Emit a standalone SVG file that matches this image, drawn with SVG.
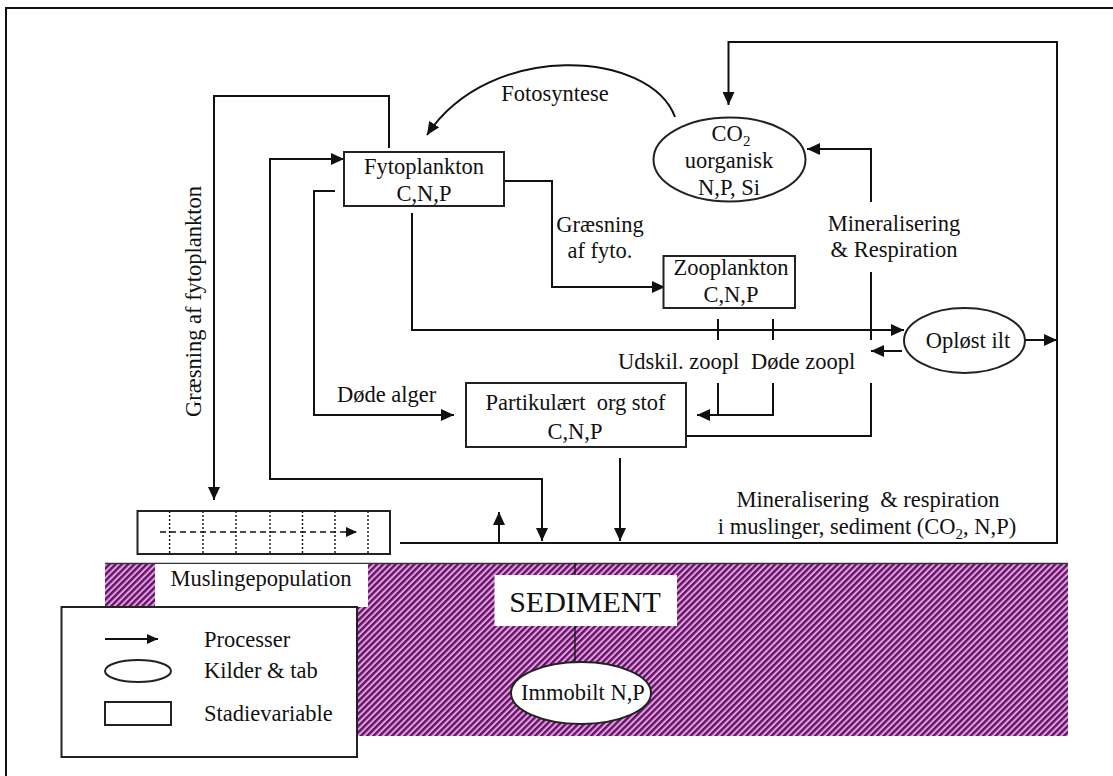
<svg xmlns="http://www.w3.org/2000/svg" width="1113" height="776" viewBox="0 0 1113 776">
<style>
text{font-family:"Liberation Serif","Times New Roman",serif;font-size:22.5px;fill:#111;}
.c{text-anchor:middle;}
.box{fill:#fff;stroke:#222;stroke-width:2;}
.ln{fill:none;stroke:#111;stroke-width:2;}
.thin{fill:none;stroke:#111;stroke-width:1.3;}
.dot{fill:none;stroke:#111;stroke-width:1.4;stroke-dasharray:2 2;}
.dash{fill:none;stroke:#111;stroke-width:1.4;stroke-dasharray:6 4;}
</style>
<defs>
<marker id="ah" markerUnits="userSpaceOnUse" markerWidth="14" markerHeight="12" refX="13" refY="6" orient="auto-start-reverse">
<path d="M0,0 L13,6 L0,12 Z" fill="#111"/>
</marker>
<marker id="ahs" markerUnits="userSpaceOnUse" markerWidth="12" markerHeight="10" refX="11" refY="5" orient="auto">
<path d="M0,0 L11,5 L0,10 Z" fill="#111"/>
</marker>
<pattern id="hatch" patternUnits="userSpaceOnUse" width="4.4" height="4.4" patternTransform="rotate(45)">
<rect width="4.4" height="4.4" fill="#dba4db"/>
<rect width="2.4" height="4.4" fill="#6a0f6a"/>
</pattern>
</defs>

<!-- frame -->
<rect x="6" y="8" width="1130" height="800" fill="none" stroke="#111" stroke-width="2"/>

<!-- sediment band -->
<g id="sediment">
<rect x="105" y="563" width="963" height="173" fill="url(#hatch)"/>
<line x1="105" y1="563.5" x2="1068" y2="563.5" stroke="#333" stroke-width="1.5"/>
<rect x="155" y="564" width="213" height="43" fill="#fff"/>
<text class="c" x="261" y="586">Muslingepopulation</text>
<rect x="494.5" y="575" width="182.5" height="51" fill="#fff"/>
<text class="c" x="585" y="612" style="font-size:30px">SEDIMENT</text>
<line class="thin" x1="575" y1="563" x2="575" y2="575"/>
<line class="thin" x1="575" y1="626" x2="575" y2="662"/>
</g>

<g id="immobilt">
<ellipse cx="581" cy="693" rx="70" ry="31" class="box"/>
<text class="c" x="583" y="700">Immobilt N,P</text>
</g>

<g id="connectors">
<polyline class="ln" points="389,148 389,96 214,96 214,500" marker-end="url(#ah)"/>
<polyline class="ln" points="542,541 542,479 270,479 270,159 344,159" marker-start="url(#ah)" marker-end="url(#ah)"/>
<polyline class="ln" points="335,191 314,191 314,415 454,415" marker-end="url(#ah)"/>
<polyline class="ln" points="412,213 412,330 904,330" marker-end="url(#ah)"/>
<polyline class="ln" points="504,181 552,181 552,287 665,287" marker-end="url(#ah)"/>
<line class="ln" x1="718" y1="319" x2="718" y2="340"/>
<line class="ln" x1="773" y1="319" x2="773" y2="340"/>
<line class="ln" x1="718" y1="383" x2="718" y2="415"/>
<polyline class="ln" points="773,383 773,415 697,415" marker-end="url(#ah)"/>
<polyline class="ln" points="686,436 871,436 871,383"/>
<line class="ln" x1="871" y1="340" x2="871" y2="272"/>
<polyline class="ln" points="871,202 871,149 807,149" marker-end="url(#ah)"/>
<line class="ln" x1="902" y1="351" x2="871" y2="351" marker-end="url(#ah)"/>
<line class="ln" x1="1025" y1="340" x2="1057" y2="340" marker-end="url(#ah)"/>
<polyline class="ln" points="400,543 1057,543 1057,42 728.5,42 728.5,105" marker-end="url(#ah)"/>
<line class="ln" x1="499" y1="543" x2="499" y2="512" marker-end="url(#ah)"/>
<line class="ln" x1="620" y1="458" x2="620" y2="541" marker-end="url(#ah)"/>
<path class="ln" d="M675,117 C650,50 490,40 427,135" marker-end="url(#ah)"/>
</g>

<g id="fytoplankton">
<rect x="344" y="152" width="160" height="54" class="box"/>
<text class="c" x="424" y="174">Fytoplankton</text>
<text class="c" x="424" y="201">C,N,P</text>
</g>

<g id="co2">
<ellipse cx="729.5" cy="159.5" rx="76" ry="42" class="box"/>
<text class="c" x="731" y="141">CO<tspan style="font-size:15px" dy="5">2</tspan></text>
<text class="c" x="729" y="168">uorganisk</text>
<text class="c" x="729" y="195">N,P, Si</text>
</g>

<g id="zooplankton">
<rect x="663.5" y="256" width="131.5" height="52" class="box"/>
<text class="c" x="731" y="275">Zooplankton</text>
<text class="c" x="731" y="302">C,N,P</text>
</g>

<g id="oploest">
<ellipse cx="964.5" cy="340.5" rx="60.5" ry="32.5" class="box"/>
<text class="c" x="968" y="348">Opløst ilt</text>
</g>

<g id="partikulaert">
<rect x="466" y="383" width="220" height="64" class="box"/>
<text class="c" x="575.5" y="410" xml:space="preserve">Partikulært  org stof</text>
<text class="c" x="575" y="439">C,N,P</text>
</g>

<g id="muslinger">
<rect x="137.5" y="511" width="252.5" height="43" class="box"/>
<line class="dot" x1="169.6" y1="511" x2="169.6" y2="554"/>
<line class="dot" x1="203" y1="511" x2="203" y2="554"/>
<line class="dot" x1="236" y1="511" x2="236" y2="554"/>
<line class="dot" x1="270" y1="511" x2="270" y2="554"/>
<line class="dot" x1="302.5" y1="511" x2="302.5" y2="554"/>
<line class="dot" x1="335" y1="511" x2="335" y2="554"/>
<line class="dot" x1="368" y1="511" x2="368" y2="554"/>
<line class="dash" x1="160" y1="532" x2="357" y2="532" marker-end="url(#ahs)"/>
</g>

<g id="labels">
<text class="c" x="555" y="101">Fotosyntese</text>
<text class="c" x="600" y="232">Græsning</text>
<text class="c" x="600" y="258">af fyto.</text>
<text class="c" x="894" y="231">Mineralisering</text>
<text class="c" x="894" y="257">&amp; Respiration</text>
<text x="618" y="369">Udskil. zoopl</text>
<text x="751" y="369">Døde zoopl</text>
<text x="337" y="402">Døde alger</text>
<text class="c" x="868" y="507" xml:space="preserve">Mineralisering  &amp; respiration</text>
<text class="c" x="867" y="534">i muslinger, sediment (CO<tspan style="font-size:15px" dy="5">2</tspan><tspan dy="-5">, N,P)</tspan></text>
<text class="c" transform="translate(201,301.5) rotate(-90)">Græsning af fytoplankton</text>
</g>

<g id="legend">
<rect x="61.5" y="607" width="295.5" height="150" class="box"/>
<line class="ln" x1="105" y1="639" x2="158" y2="639" marker-end="url(#ahs)"/>
<ellipse cx="138" cy="671" rx="33" ry="11" class="box"/>
<rect x="105" y="702" width="66" height="23" class="box"/>
<text x="204" y="647">Processer</text>
<text x="204" y="678">Kilder &amp; tab</text>
<text x="204" y="721">Stadievariable</text>
</g>
</svg>
